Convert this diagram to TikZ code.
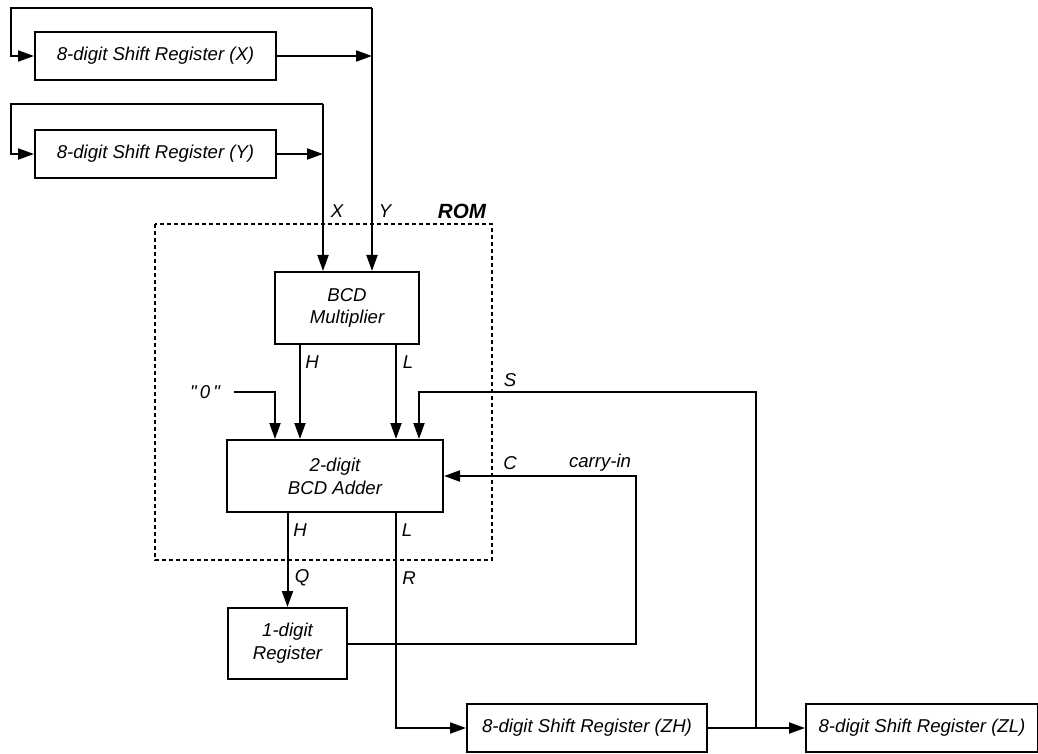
\documentclass[tikz,border=0pt]{standalone}
\usepackage{fontspec}
\setsansfont{Liberation Sans}
\usetikzlibrary{positioning,arrows.meta}
\newcommand{\dgfont}{\sffamily\itshape\fontsize{9.3}{11.4}\selectfont}
\tikzset{
  >={Triangle[length=8pt,width=5.5pt]},
  regbox/.style={draw=black,line width=1pt,minimum height=24pt,
    inner sep=1pt,font=\dgfont,align=center},
  unitbox/.style={regbox,minimum height=36pt},
  wire/.style={line width=1pt,black},
  flow/.style={wire,->},
  romframe/.style={dashed,dash pattern=on 2.2pt off 1.3pt,line width=0.8pt},
  sig/.style={font=\dgfont,inner sep=0pt},
  romlbl/.style={font=\sffamily\bfseries\itshape\fontsize{10.3}{12}\selectfont,
    inner sep=0pt},
}
\begin{document}
\begin{tikzpicture}[x=0.5pt,y=-0.5pt]
  \useasboundingbox (0,0) rectangle (1038,754);
  \node[regbox,minimum width=120.5pt] (regX) at (155.5,56) {8-digit Shift Register (X)};
  \node[regbox,minimum width=120.5pt,below=24pt of regX] (regY) {8-digit Shift Register (Y)};
  \node[unitbox,minimum width=72pt] (mult) at (347,308) {BCD\\Multiplier};
  \node[unitbox,minimum width=108pt] (adder) at (335,476) {2-digit\\BCD Adder};
  \node[unitbox,minimum width=59.5pt,minimum height=35.5pt] (dreg) at (287.5,643.5) {1-digit\\Register};
  \node[regbox,minimum width=120pt] (regZH) at (587,728) {8-digit Shift Register (ZH)};
  \node[regbox,minimum width=116pt,right=48.5pt of regZH] (regZL) {8-digit Shift Register (ZL)};
  \draw[romframe] (155,224) rectangle (492,560);

  \coordinate (ybus) at (372,8);
  \coordinate (xbus) at (323,104);
  \coordinate (lft) at (11,0);
  \coordinate (hcol) at (300,0);
  \coordinate (lcol) at (396,0);
  \coordinate (zcol) at (275,0);
  \coordinate (sin) at (419,392);
  \coordinate (zj) at (756,728);
  \coordinate (cin) at (636,476);

  \draw[flow] (ybus) -- (ybus -| lft) |- (regX.west);
  \draw[flow] (regX.east) -- (regX.east -| ybus);
  \draw[flow] (ybus) -- (ybus |- mult.north);
  \draw[flow] (xbus) -- (xbus -| lft) |- (regY.west);
  \draw[flow] (regY.east) -- (regY.east -| xbus);
  \draw[flow] (xbus) -- (xbus |- mult.north);

  \draw[flow] (mult.south -| hcol) -- (adder.north -| hcol);
  \draw[flow] (mult.south -| lcol) -- (adder.north -| lcol);
  \node[sig] (zero) at (205,392) {\textquotedbl\,0\,\textquotedbl};
  \draw[flow] ([xshift=7pt]zero.east) -| (adder.north -| zcol);
  \draw[flow] (zj) |- (sin) -- (sin |- adder.north);
  \draw[flow] (dreg.east) -| (cin) -- (adder.east);

  \draw[flow] (adder.south -| dreg.north) -- (dreg.north);
  \draw[flow] (adder.south -| lcol) |- (regZH.west);
  \draw[flow] (regZH.east) -- (regZL.west);

  \node[sig] (lx) at (337,211) {X};
  \node[sig] (ly) at (385,211) {Y};
  \node[romlbl] (lrom) at (462,211) {ROM};
  \node[sig] (lmh) at (312,362) {H};
  \node[sig] (lml) at (408,362) {L};
  \node[sig] (ls) at (510,380) {S};
  \node[sig] (lc) at (510,463) {C};
  \node[sig] (lcin) at (600,463) {carry-in};
  \node[sig] (lah) at (300,530) {H};
  \node[sig] (lal) at (407,530) {L};
  \node[sig] (lq) at (302,578) {Q};
  \node[sig] (lr) at (409,578) {R};
\end{tikzpicture}
\end{document}
